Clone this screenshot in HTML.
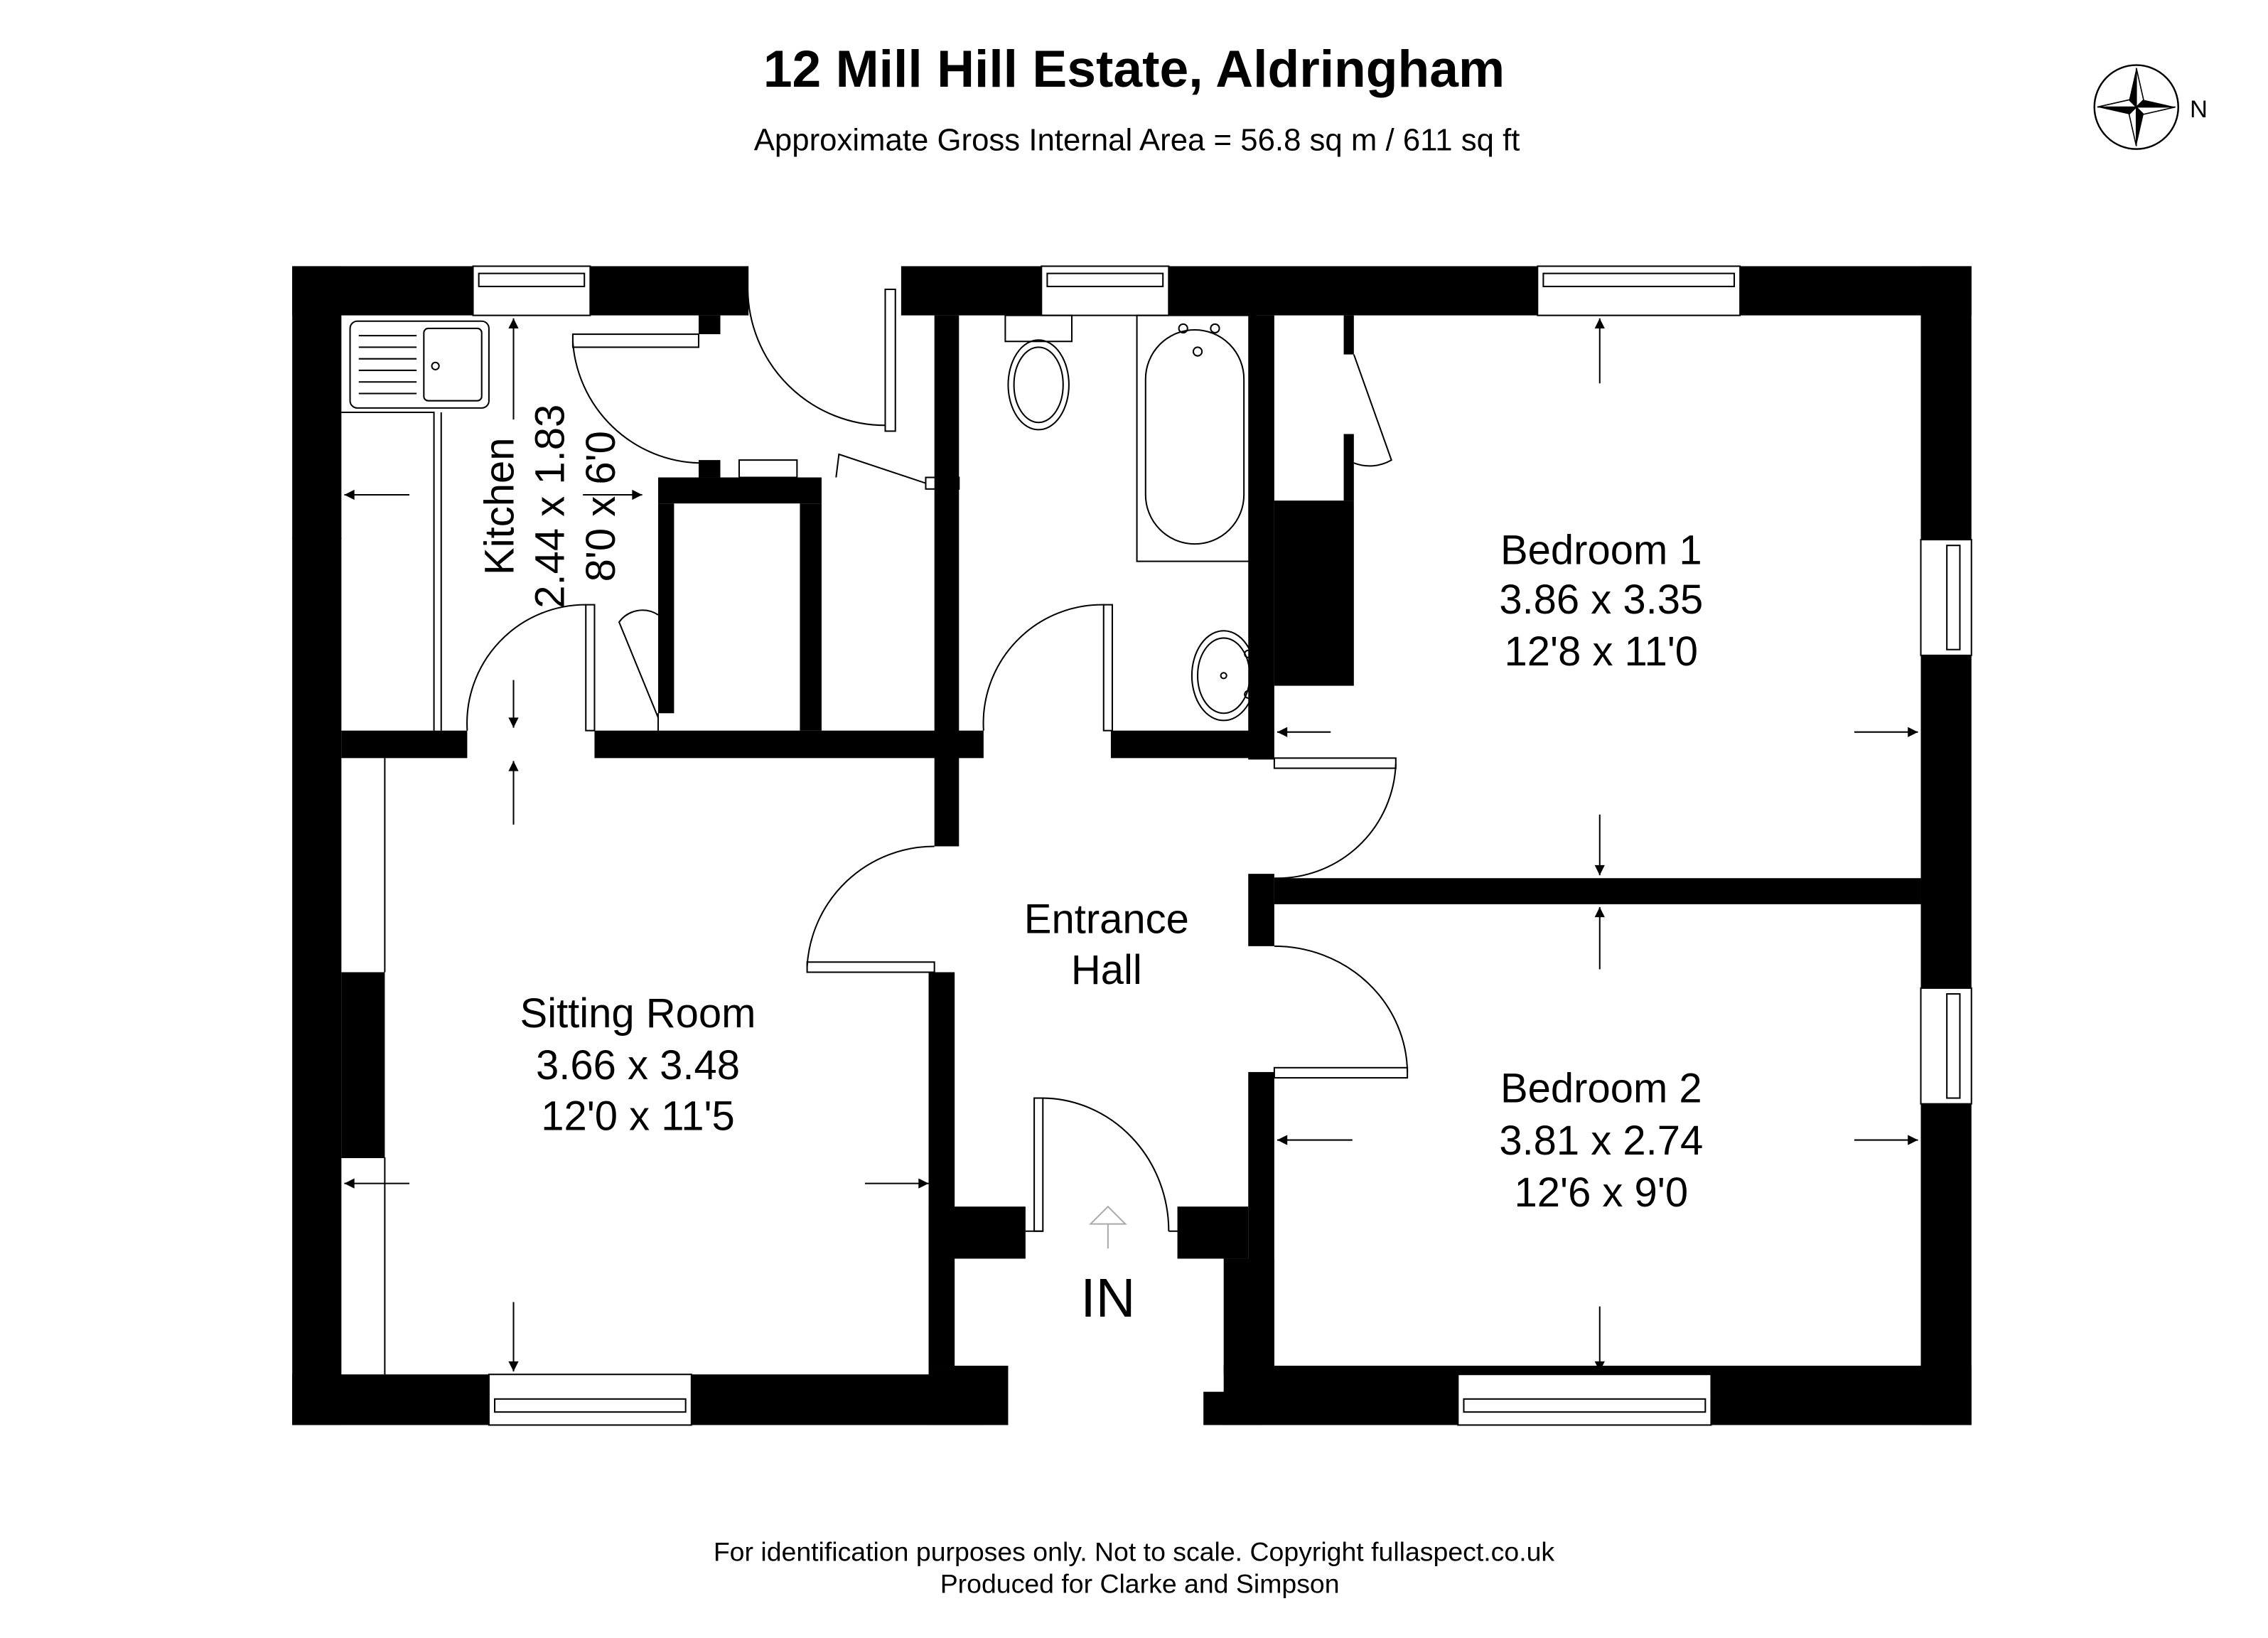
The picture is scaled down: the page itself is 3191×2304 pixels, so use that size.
<!DOCTYPE html>
<html><head><meta charset="utf-8"><style>html,body{margin:0;padding:0;background:#fff}svg{display:block}</style></head>
<body>
<svg width="3191" height="2304" viewBox="0 0 1568 1132.2" xmlns="http://www.w3.org/2000/svg" font-family="Liberation Sans, Arial, sans-serif">
<defs>
<marker id="ah" viewBox="0 0 10 10" refX="10" refY="5" markerWidth="14" markerHeight="7" markerUnits="userSpaceOnUse" orient="auto"><path d="M0,0 L10,5 L0,10 z" fill="#000"/></marker>
</defs>
<text x="784" y="60" text-anchor="middle" font-size="36" font-weight="bold">12 Mill Hill Estate, Aldringham</text>
<text x="786" y="104" text-anchor="middle" font-size="21.5">Approximate Gross Internal Area = 56.8 sq m / 611 sq ft</text>
<!-- compass -->
<g transform="translate(1477,74)">
<circle r="29" fill="none" stroke="#000" stroke-width="1.2"/>
<path d="M0,-27 L5,-5 L27,0 L5,5 L0,27 L-5,5 L-27,0 L-5,-5 z" fill="#000"/>
<path d="M0,-27 L5,-5 L0,0 z M27,0 L5,5 L0,0 z M0,27 L-5,5 L0,0 z M-27,0 L-5,-5 L0,0z" fill="#fff" stroke="#000" stroke-width="0.8"/>
</g>
<text x="1514" y="81" font-size="17">N</text>
<text x="784" y="1079" text-anchor="middle" font-size="18.4">For identification purposes only. Not to scale. Copyright fullaspect.co.uk</text>
<text x="788" y="1101" text-anchor="middle" font-size="18.4">Produced for Clarke and Simpson</text>

<g fill="#000">
<rect x="202" y="184" width="315" height="34"/>
<rect x="623" y="184" width="740" height="34"/>
<rect x="202" y="184" width="34" height="801"/>
<rect x="236" y="672" width="30" height="128"/>
<rect x="1328" y="184" width="35" height="801"/>
<rect x="202" y="950" width="478" height="35"/>
<rect x="642" y="944" width="55" height="41"/>
<rect x="846" y="944" width="517" height="41"/>
<rect x="832" y="962" width="40" height="23"/>
<rect x="236" y="505" width="87" height="19"/>
<rect x="411" y="505" width="269" height="19"/>
<rect x="483" y="218" width="15" height="13"/>
<rect x="483" y="318" width="15" height="12"/>
<rect x="455" y="330" width="113" height="18"/>
<rect x="455" y="348" width="11" height="145"/>
<rect x="553" y="348" width="15" height="157"/>
<rect x="646" y="218" width="17" height="367"/>
<rect x="642" y="672" width="18" height="272"/>
<rect x="642" y="834" width="67" height="36"/>
<rect x="768" y="505" width="100" height="19"/>
<rect x="863" y="218" width="18" height="307"/>
<rect x="881" y="346" width="55" height="128"/>
<rect x="929" y="218" width="7" height="27"/>
<rect x="929" y="300" width="7" height="46"/>
<rect x="863" y="604" width="18" height="50"/>
<rect x="881" y="607" width="447" height="18"/>
<rect x="863" y="741" width="18" height="203"/>
<rect x="814" y="834" width="49" height="36"/>
<rect x="846" y="870" width="35" height="80"/>
</g>
<g fill="#fff" stroke="#000" stroke-width="1">
<rect x="327" y="184" width="81" height="34"/><rect x="331" y="189" width="73" height="9"/>
<rect x="720" y="184" width="88" height="34"/><rect x="724" y="189" width="80" height="9"/>
<rect x="1063" y="184" width="140" height="34"/><rect x="1067" y="189" width="132" height="9"/>
<rect x="338" y="950" width="140" height="35"/><rect x="342" y="967" width="132" height="9"/>
<rect x="1008" y="950" width="175" height="35"/><rect x="1012" y="967" width="167" height="9"/>
<rect x="1328" y="373" width="35" height="80"/><rect x="1346" y="377" width="9" height="72"/>
<rect x="1328" y="683" width="35" height="80"/><rect x="1346" y="687" width="9" height="72"/>
</g>
<g fill="none" stroke="#000" stroke-width="1">
<path d="M236,372 L202,372"/>
<path d="M236,285 L300,285 L300,505"/>
<rect x="242" y="222" width="96" height="60" rx="5"/>
<rect x="293" y="227" width="40" height="50" rx="3"/>
<path d="M248,232h40M248,240h40M248,248h40M248,256h40M248,264h40M248,272h40"/>
<circle cx="301" cy="253" r="2.5"/>
<path d="M305,285 L305,505"/>
<rect x="396" y="231" width="87" height="9"/>
<path d="M396,236 A90,90 0 0 0 483,320"/>
<path d="M517,184 L517,218 M517,200 A95,95 0 0 0 612,294"/>
<rect x="612" y="200" width="7" height="98"/>
<rect x="511" y="318" width="40" height="12"/>
<path d="M578,330 L580,314 L640,334"/>
<rect x="640" y="330" width="23" height="8"/>
<rect x="405" y="418" width="6" height="87"/>
<path d="M405,418 A82,82 0 0 0 323,505"/>
<path d="M455,493 L455,505 M455,496 L428,430 A20,20 0 0 1 455,425"/>
<rect x="695" y="218" width="46" height="18"/>
<ellipse cx="718" cy="266" rx="21" ry="31"/><ellipse cx="718" cy="266" rx="17" ry="26"/>
<rect x="786" y="218" width="82" height="170"/>
<rect x="792" y="228" width="68" height="148" rx="34"/>
<circle cx="818" cy="227" r="3"/><circle cx="840" cy="227" r="3"/><circle cx="828" cy="243" r="3"/>
<ellipse cx="846" cy="467" rx="22" ry="31"/><ellipse cx="846" cy="467" rx="18" ry="26"/>
<circle cx="846" cy="467" r="2"/><circle cx="863" cy="452" r="2.5"/><circle cx="863" cy="480" r="2.5"/>
<rect x="763" y="418" width="6" height="87"/>
<path d="M763,418 A82,82 0 0 0 680,505"/>
<path d="M936,245 L962,318 A30,30 0 0 1 936,320"/>
<rect x="881" y="524" width="84" height="7"/>
<path d="M965,528 A82,82 0 0 1 881,607"/>
<rect x="558" y="665" width="88" height="7"/>
<path d="M558,668 A88,88 0 0 1 646,585"/>
<rect x="881" y="738" width="92" height="7"/>
<path d="M881,654 A92,88 0 0 1 973,741"/>
<rect x="715" y="759" width="6" height="92"/>
<path d="M721,759 A88,92 0 0 1 808,851"/>
<path d="M709,851h12 M808,851h6"/>
<path d="M266,524 L266,672 M266,800 L266,950 M236,800h30"/>
</g>
<path d="M766,863 L766,846 L754,846 L766,834 L778,846 L766,846" fill="none" stroke="#aaa" stroke-width="1"/>
<text x="766" y="910" text-anchor="middle" font-size="38">IN</text>
<g stroke="#000" stroke-width="1" fill="none" marker-end="url(#ah)">
<path d="M355,290 L355,220"/>
<path d="M283,342 L238,342"/>
<path d="M403,342 L444,342"/>
<path d="M355,470 L355,503"/>
<path d="M355,570 L355,526"/>
<path d="M283,818 L238,818"/>
<path d="M598,818 L642,818"/>
<path d="M355,900 L355,948"/>
<path d="M1106,265 L1106,220"/>
<path d="M920,506 L883,506"/>
<path d="M1282,506 L1326,506"/>
<path d="M1106,563 L1106,605"/>
<path d="M1106,670 L1106,627"/>
<path d="M935,788 L883,788"/>
<path d="M1282,788 L1326,788"/>
<path d="M1106,903 L1106,948"/>
</g>
<g font-size="28.5" text-anchor="middle">
<text x="1107" y="390">Bedroom 1</text><text x="1107" y="424">3.86 x 3.35</text><text x="1107" y="460">12'8 x 11'0</text>
<text x="1107" y="762">Bedroom 2</text><text x="1107" y="798">3.81 x 2.74</text><text x="1107" y="834">12'6 x 9'0</text>
<text x="441" y="710">Sitting Room</text><text x="441" y="746">3.66 x 3.48</text><text x="441" y="781">12'0 x 11'5</text>
<text x="765" y="645">Entrance</text><text x="765" y="680">Hall</text>
<g transform="translate(382,350) rotate(-90)"><text x="0" y="-27">Kitchen</text><text x="0" y="8">2.44 x 1.83</text><text x="0" y="43">8'0 x 6'0</text></g>
</g>
</svg>
</body></html>
